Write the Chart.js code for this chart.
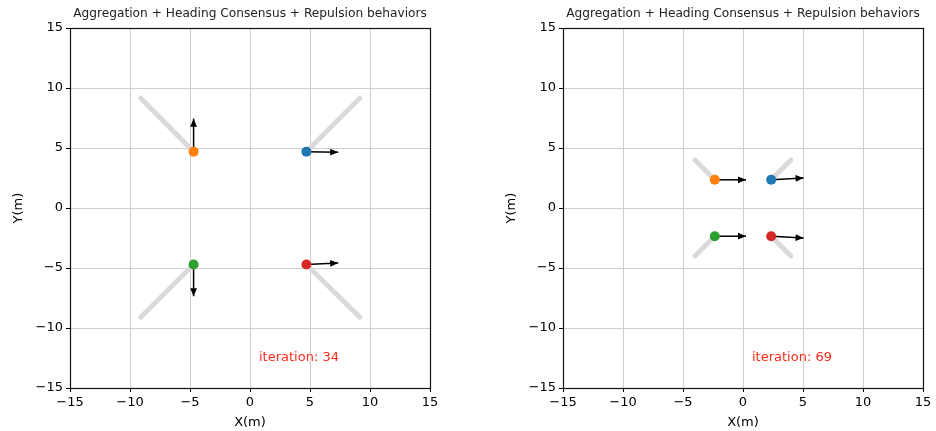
<!DOCTYPE html>
<html>
<head>
<meta charset="utf-8">
<script src="https://cdn.jsdelivr.net/npm/chart.js@4.4.1/dist/chart.umd.min.js"></script>
<style>
    body { margin: 0; background: #fff; }
    .panel { position: absolute; top: 0; }
</style>
</head>
<body>
<div class="panel" style="left:0px;"><canvas id="chartA" width="468" height="431"></canvas></div>
<div class="panel" style="left:468px;"><canvas id="chartB" width="468" height="431"></canvas></div>
<script>
// axis ticks
const tickValues = [-15, -10, -5, 0, 5, 10, 15];
const chartTitle = 'Aggregation + Heading Consensus + Repulsion behaviors';

// agents: blue, orange, green, red
const agentColors = ['#1f77b4', '#ff7f0e', '#2ca02c', '#d62728'];

// left panel, iteration 34
const iterA = 34;
const posXA = [4.7, -4.7, -4.7, 4.7];
const posYA = [4.7, 4.7, -4.7, -4.7];
const trailXA = [9.15, -9.1, -9.1, 9.15];
const trailYA = [9.15, 9.15, -9.1, -9.1];
const headXA = [2.65, 0, 0, 2.65];
const headYA = [-0.05, 2.75, -2.65, 0.12];

// right panel, iteration 69
const iterB = 69;
const posXB = [2.35, -2.35, -2.35, 2.35];
const posYB = [2.35, 2.35, -2.35, -2.35];
const trailXB = [4.0, -4.0, -4.0, 4.0];
const trailYB = [4.0, 4.0, -4.0, -4.0];
const headXB = [2.7, 2.6, 2.6, 2.7];
const headYB = [0.15, 0, 0, -0.15];

// where the iteration label sits (data coords)
const iterLabelX = 0.75;
const iterLabelY = -12.5;

const FONT = 'DejaVu Sans';

function fmtTick(v) {
    return v < 0 ? '\u2212' + Math.abs(v) : String(v);
}

// frame around the plot area, arrow heads and iteration label
const extrasPlugin = {
    id: 'extras',
    afterDatasetsDraw(chart) {
        const ctx = chart.ctx;
        const xs = chart.scales.x, ys = chart.scales.y;
        ctx.save();
        chart.data.datasets.forEach(ds => {
            if (!ds.isArrow) return;
            const p0 = ds.data[0], p1 = ds.data[1];
            const x0 = xs.getPixelForValue(p0.x), y0 = ys.getPixelForValue(p0.y);
            const x1 = xs.getPixelForValue(p1.x), y1 = ys.getPixelForValue(p1.y);
            const ang = Math.atan2(y1 - y0, x1 - x0);
            const hl = 8, hw = 3.4;
            ctx.fillStyle = '#000';
            ctx.beginPath();
            ctx.moveTo(x1, y1);
            ctx.lineTo(x1 - hl * Math.cos(ang) - hw * Math.sin(ang), y1 - hl * Math.sin(ang) + hw * Math.cos(ang));
            ctx.lineTo(x1 - hl * Math.cos(ang) + hw * Math.sin(ang), y1 - hl * Math.sin(ang) - hw * Math.cos(ang));
            ctx.closePath();
            ctx.fill();
        });
        // iteration text
        ctx.fillStyle = '#ff2a1a';
        ctx.font = '13px "' + FONT + '"';
        ctx.textAlign = 'left';
        ctx.textBaseline = 'middle';
        ctx.fillText('iteration: ' + chart.options.iteration, xs.getPixelForValue(iterLabelX), ys.getPixelForValue(iterLabelY));
        // frame (spines)
        const a = chart.chartArea;
        ctx.strokeStyle = '#111';
        ctx.lineWidth = 1.2;
        ctx.strokeRect(Math.round(a.left) + 0.5, Math.round(a.top) + 0.5, Math.round(a.right - a.left), Math.round(a.bottom - a.top));
        ctx.restore();
    }
};

function buildDatasets(posX, posY, trailX, trailY, headX, headY) {
    const points = [], arrows = [], trails = [];
    for (let i = 0; i < posX.length; i++) {
        points.push({
            type: 'scatter',
            data: [{ x: posX[i], y: posY[i] }],
            backgroundColor: agentColors[i],
            borderColor: agentColors[i],
            pointRadius: 5,
            borderWidth: 0
        });
        arrows.push({
            type: 'line',
            isArrow: true,
            data: [{ x: posX[i], y: posY[i] }, { x: posX[i] + headX[i], y: posY[i] + headY[i] }],
            borderColor: '#000',
            borderWidth: 1.5,
            pointRadius: 0,
            fill: false
        });
        trails.push({
            type: 'line',
            data: [{ x: trailX[i], y: trailY[i] }, { x: posX[i], y: posY[i] }],
            borderColor: '#dadada',
            borderWidth: 5,
            borderCapStyle: 'round',
            pointRadius: 0,
            fill: false
        });
    }
    // first in list is drawn on top
    return points.concat(arrows, trails);
}

function axisOpts(titleText, isX, titlePad, size) {
    return {
        type: 'linear',
        min: -15,
        max: 15,
        afterBuildTicks: s => { s.ticks = tickValues.map(v => ({ value: v })); },
        afterFit: s => { if (isX) { s.height = size; } else { s.width = size; } },
        ticks: {
            callback: fmtTick,
            color: '#000',
            padding: 3,
            maxRotation: 0,
            autoSkip: false,
            font: { family: FONT, size: 13 }
        },
        grid: {
            color: '#cfcfcf',
            lineWidth: 1,
            tickColor: '#000',
            tickLength: 4,
            drawTicks: true
        },
        border: { display: false },
        title: {
            display: true,
            text: titleText,
            color: '#000',
            padding: titlePad,
            font: { family: FONT, size: 13 }
        }
    };
}

function makeChart(canvasId, iteration, datasets, pad, yWidth, yTitlePad) {
    const ctx = document.getElementById(canvasId).getContext('2d');
    return new Chart(ctx, {
        data: { datasets: datasets },
        options: {
            responsive: false,
            animation: false,
            devicePixelRatio: 1,
            iteration: iteration,
            layout: { padding: pad },
            plugins: {
                legend: { display: false },
                tooltip: { enabled: false },
                title: {
                    display: true,
                    text: chartTitle,
                    fullSize: false,
                    color: '#222',
                    padding: { top: 7, bottom: 6.4 },
                    font: { family: FONT, size: 12.2, weight: 'normal' }
                }
            },
            scales: {
                x: axisOpts('X(m)', true, { top: 0, bottom: 1 }, 43),
                y: axisOpts('Y(m)', false, { top: yTitlePad, bottom: 0 }, yWidth)
            }
        },
        plugins: [extrasPlugin]
    });
}

makeChart('chartA', iterA, buildDatasets(posXA, posYA, trailXA, trailYA, headXA, headYA),
    { left: 0, right: 38, top: 0, bottom: 0 }, 70, 11);
makeChart('chartB', iterB, buildDatasets(posXB, posYB, trailXB, trailYB, headXB, headYB),
    { left: 30, right: 13, top: 0, bottom: 0 }, 65, 6);
</script>
</body>
</html>
